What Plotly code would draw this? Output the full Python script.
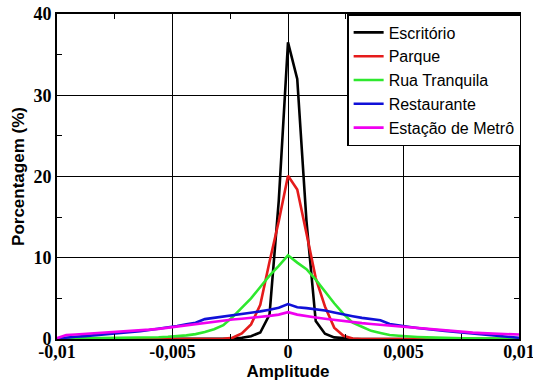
import plotly.graph_objects as go

# Amplitude grid (step 0.0004 from -0.01 to 0.01), 0 is index 25
amplitude = [round(-0.01 + 0.0004 * i, 4) for i in range(51)]

escritorio = ([0] * 18 + [0.02, 0.05, 0.15, 0.35, 0.8, 3.0, 17.0]
              + [36.5]
              + [32.0, 14.5, 2.2, 0.65, 0.2, 0.08, 0.03] + [0] * 18)

parque = ([0] * 18 + [0.03, 0.15, 0.7, 1.8, 4.2, 9.5, 14.5]
          + [20.1]
          + [18.4, 13.0, 7.5, 4.0, 1.4, 0.4, 0.05] + [0] * 18)

rua_tranquila = [0.05, 0.06, 0.07, 0.08, 0.09, 0.1, 0.11, 0.13, 0.15, 0.16,
                 0.18, 0.22, 0.28, 0.35, 0.45, 0.6, 0.85, 1.2, 1.7, 2.7,
                 3.8, 5.0, 6.4, 7.8, 9.0,
                 10.3,
                 9.4, 8.6, 7.3, 5.8, 4.4, 3.1, 2.0, 1.5, 1.0, 0.75,
                 0.5, 0.4, 0.3, 0.25, 0.2, 0.15, 0.13, 0.11, 0.1, 0.09,
                 0.08, 0.07, 0.06, 0.05, 0.05]

restaurante = [0.05, 0.2, 0.28, 0.36, 0.45, 0.52, 0.6, 0.7, 0.82, 0.95,
               1.1, 1.25, 1.4, 1.6, 1.8, 2.0, 2.45, 2.6, 2.8, 2.95,
               3.1, 3.25, 3.4, 3.6, 3.85,
               4.3,
               3.9, 3.8, 3.65, 3.5, 3.25, 3.0, 2.8, 2.6, 2.45, 2.3,
               1.85, 1.65, 1.5, 1.35, 1.2, 1.1, 1.0, 0.9, 0.8, 0.7,
               0.6, 0.5, 0.4, 0.3, 0.15]

estacao_metro = [0.1, 0.5, 0.55, 0.62, 0.68, 0.74, 0.8, 0.88, 0.96, 1.05,
                 1.15, 1.25, 1.4, 1.55, 1.7, 1.85, 2.0, 2.15, 2.3, 2.4,
                 2.5, 2.6, 2.75, 2.85, 3.0,
                 3.3,
                 3.0, 2.8, 2.65, 2.5, 2.35, 2.2, 2.05, 1.95, 1.85, 1.75,
                 1.62, 1.5, 1.4, 1.3, 1.2, 1.1, 1.0, 0.92, 0.85, 0.78,
                 0.72, 0.66, 0.62, 0.58, 0.55]

series_names = ["Escritório", "Parque", "Rua Tranquila", "Restaurante", "Estação de Metrô"]
series_values = [escritorio, parque, rua_tranquila, restaurante, estacao_metro]
series_colors = ["#000000", "#e51b1b", "#2ee82e", "#1010d8", "#f000f0"]

x_tick_vals = [-0.01, -0.005, 0, 0.005, 0.01]
x_tick_text = ["-0,01", "-0,005", "0", "0,005", "0,01"]
y_tick_vals = [0, 10, 20, 30, 40]
y_tick_text = ["0", "10", "20", "30", "40"]

fig = go.Figure()
for name, vals, col in zip(series_names, series_values, series_colors):
    fig.add_trace(go.Scatter(x=amplitude, y=vals, mode="lines", name=name,
                             line=dict(color=col, width=2.6)))

tickfont = dict(family="Liberation Serif", size=18, color="black", weight="bold")
titlefont = dict(family="Liberation Sans", size=17, color="black", weight="bold")
fig.update_layout(
    width=533, height=381,
    margin=dict(l=57, r=14, t=14, b=42),
    plot_bgcolor="white", paper_bgcolor="white",
    showlegend=True,
    legend=dict(x=0.628, y=1.0, xanchor="left", yanchor="top",
                bgcolor="white", bordercolor="black", borderwidth=1.5,
                font=dict(family="Liberation Sans", size=16, color="black"),
                itemwidth=30, tracegroupgap=0),
)
fig.update_xaxes(range=[-0.01, 0.01], tickvals=x_tick_vals, ticktext=x_tick_text,
                 automargin=False, ticklabeloverflow="allow", ticklabelstandoff=-5,
                 showgrid=True, gridcolor="black", gridwidth=1.3,
                 showline=True, linecolor="black", linewidth=2, mirror="ticks",
                 ticks="inside", ticklen=6, tickcolor="black",
                 minor=dict(ticks="inside", dtick=0.0025, ticklen=5, tickcolor="black", showgrid=False),
                 tickfont=tickfont, zeroline=False,
                 title=dict(text="Amplitude", font=titlefont, standoff=0))
fig.update_yaxes(range=[0, 40], tickvals=y_tick_vals, ticktext=y_tick_text,
                 automargin=False, ticklabeloverflow="allow",
                 showgrid=True, gridcolor="black", gridwidth=1.3,
                 showline=True, linecolor="black", linewidth=2, mirror="ticks",
                 ticks="inside", ticklen=6, tickcolor="black",
                 minor=dict(ticks="inside", dtick=5, ticklen=5, tickcolor="black", showgrid=False),
                 tickfont=tickfont, zeroline=False,
                 title=dict(text="Porcentagem (%)", font=titlefont, standoff=4))

fig.write_html("out.html", config={"displayModeBar": False},
               post_script="document.body.style.margin='0';document.body.style.overflow='hidden';")
